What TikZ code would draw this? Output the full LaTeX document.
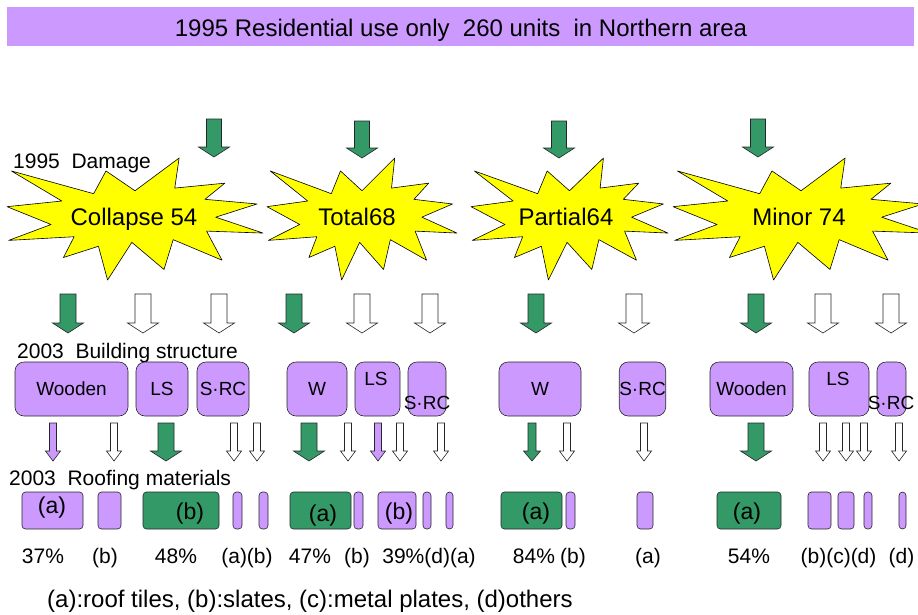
\documentclass[tikz,border=0pt]{standalone}
\usepackage{fontspec}
\setmainfont{Liberation Sans}
\definecolor{lilac}{RGB}{204,153,255}
\definecolor{leaf}{RGB}{51,153,102}
\definecolor{burst}{RGB}{255,255,0}

% block arrow pointing down: style, x, top, tip, shaft half width, head half width
\newcommand{\blockdown}[6]{%
  \draw[#1] (#2-#5,#3) -- (#2+#5,#3) -- (#2+#5,#4-10) -- (#2+#6,#4-10)
    -- (#2,#4) -- (#2-#6,#4-10) -- (#2-#5,#4-10) -- cycle;}

% explosion outline in a 216 x 216 frame: left, top, width, height
\newcommand{\explosion}[4]{%
  \begin{scope}[shift={(#1,#2)}, xscale=#3/216, yscale=#4/216]
    \draw[seal] (108,58) -- (145.22,0) -- (141.55,53.25) -- (183.8,44.57)
      -- (167.02,73.15) -- (210.97,81.37) -- (176.07,104.75) -- (216,132.9)
      -- (168.37,129.42) -- (181.45,180.95) -- (140.2,144.57) -- (132.47,197.37)
      -- (105.32,149.35) -- (84.85,216) -- (77.15,156.27) -- (47.62,176.17)
      -- (56.67,139.37) -- (1.35,145.87) -- (37.22,117.75) -- (0,86.15)
      -- (46.27,76.17) -- (3.7,22.95) -- (73.12,63.2) -- (83.52,22.95) -- cycle;
  \end{scope}}

\begin{document}
\begin{tikzpicture}[x=1pt, y=-1pt,
    seal/.style={draw=black, line width=0.6pt, fill=burst, line join=round},
    garrow/.style={draw=black!85, line width=0.6pt, fill=leaf},
    warrow/.style={draw=black!85, line width=0.6pt, fill=white},
    varrow/.style={draw=black!85, line width=0.6pt, fill=lilac},
    heading/.style={font=\fontsize{21}{25}\selectfont, anchor=base west, inner sep=0pt},
    damage/.style={font=\fontsize{24}{28}\selectfont, anchor=base, inner sep=0pt},
    bldg/.style={draw=black!85, line width=0.6pt, fill=lilac, rounded corners=9pt,
      inner sep=0pt, minimum height=54pt, font=\fontsize{19}{22}\selectfont},
    boxtext/.style={font=\fontsize{19}{22}\selectfont, anchor=base, inner sep=0pt},
    roofbox/.style={draw=black!85, line width=0.6pt, rounded corners=3.5pt,
      inner sep=0pt, minimum height=37pt},
    rooftext/.style={font=\fontsize{23}{27}\selectfont, anchor=base, inner sep=0pt},
    pct/.style={font=\fontsize{21}{25}\selectfont, anchor=base, inner sep=0pt}]
  \useasboundingbox (0,0) rectangle (918,614);

  % title bar
  \node[fill=lilac, minimum width=907pt, minimum height=39pt, inner sep=0pt] (banner) at (460.5,26.5) {};
  \node[font=\fontsize{24}{28}\selectfont, anchor=base, inner sep=0pt] (title) at (461,36)
    {1995 Residential use only\ \ 260 units\ \ in Northern area};

  % 1995 damage
  \explosion{7}{158}{256}{122}
  \explosion{267}{158}{190}{122}
  \explosion{471}{158}{197}{122}
  \explosion{673}{158}{256}{122}
  \node[damage] (collapse) at (134,225) {Collapse 54};
  \node[damage] (total) at (357,225) {Total68};
  \node[damage] (partial) at (566,225) {Partial64};
  \node[damage] (minor) at (799,225) {Minor 74};
  \node[heading] (dmg) at (13,168) {1995\ \ Damage};

  \blockdown{garrow}{214}{119}{157}{7.5}{15.5}
  \blockdown{garrow}{362}{121}{158}{7.5}{15.5}
  \blockdown{garrow}{559}{121}{158}{7.5}{15.5}
  \blockdown{garrow}{758}{119}{157}{7.5}{15.5}

  % damage -> structure
  \blockdown{garrow}{68}{294}{333}{8}{15.5}
  \blockdown{warrow}{143}{294}{333}{8}{15.5}
  \blockdown{warrow}{219}{294}{333}{8}{15.5}
  \blockdown{garrow}{294}{294}{333}{8}{15.5}
  \blockdown{warrow}{362}{294}{333}{8}{15.5}
  \blockdown{warrow}{430}{294}{333}{8}{15.5}
  \blockdown{garrow}{536}{294}{333}{8}{15.5}
  \blockdown{warrow}{634}{294}{333}{8}{15.5}
  \blockdown{garrow}{756}{294}{333}{8}{15.5}
  \blockdown{warrow}{823}{294}{333}{8}{15.5}
  \blockdown{warrow}{891}{294}{333}{8}{15.5}

  % 2003 building structure
  \node[heading] (struct) at (17,358) {2003\ \ Building structure};
  \node[bldg, minimum width=113pt] (wood1) at (71.5,389) {Wooden};
  \node[bldg, minimum width=52pt] (ls1) at (162,389) {LS};
  \node[bldg, minimum width=52pt] (src1) at (223,389) {S·RC};
  \node[bldg, minimum width=60pt] (w2) at (317,389) {W};
  \node[bldg, minimum width=45pt] (ls2) at (377.5,389) {};
  \node[bldg, minimum width=38pt] (src2) at (427,389) {};
  \node[bldg, minimum width=82pt] (w3) at (540,389) {W};
  \node[bldg, minimum width=45pt] (src3) at (642.5,389) {S·RC};
  \node[bldg, minimum width=83pt] (wood4) at (751.5,389) {Wooden};
  \node[bldg, minimum width=60pt] (ls4) at (839,389) {};
  \node[bldg, minimum width=29pt] (src4) at (891.5,389) {};
  \node[boxtext] (ls2t) at (376,385) {LS};
  \node[boxtext] (src2t) at (427,409) {S·RC};
  \node[boxtext] (ls4t) at (838,385) {LS};
  \node[boxtext] (src4t) at (891,409) {S·RC};

  % structure -> roofing
  \blockdown{varrow}{53}{423}{461}{3.5}{7.5}
  \blockdown{warrow}{114}{423}{461}{3.5}{7.5}
  \blockdown{garrow}{166}{423}{461}{8}{15.5}
  \blockdown{warrow}{234}{423}{461}{3.5}{7.5}
  \blockdown{warrow}{257}{423}{461}{3.5}{7.5}
  \blockdown{garrow}{309}{423}{461}{8}{15.5}
  \blockdown{warrow}{348}{423}{461}{3.5}{7.5}
  \blockdown{varrow}{378}{423}{461}{3.5}{7.5}
  \blockdown{warrow}{400}{423}{461}{3.5}{7.5}
  \blockdown{warrow}{441}{423}{461}{3.5}{7.5}
  \blockdown{garrow}{532}{423}{461}{4}{8.5}
  \blockdown{warrow}{567}{423}{461}{3.5}{7.5}
  \blockdown{warrow}{644}{423}{461}{3.5}{7.5}
  \blockdown{garrow}{756}{423}{461}{8}{15.5}
  \blockdown{warrow}{823}{423}{461}{3.5}{7.5}
  \blockdown{warrow}{846}{423}{461}{3.5}{7.5}
  \blockdown{warrow}{864}{423}{461}{3.5}{7.5}
  \blockdown{warrow}{899}{423}{461}{3.5}{7.5}

  % 2003 roofing materials
  \node[heading] (roofing) at (9,485) {2003\ \ Roofing materials};
  \node[roofbox, fill=lilac, minimum width=61pt] (r1a) at (52.5,510.5) {};
  \node[roofbox, fill=lilac, minimum width=23pt] (r1b) at (109.5,510.5) {};
  \node[roofbox, fill=leaf, minimum width=76pt] (r2b) at (181,510.5) {};
  \node[roofbox, fill=lilac, minimum width=9pt] (r2a) at (237.5,510.5) {};
  \node[roofbox, fill=lilac, minimum width=9pt] (r2bb) at (263.5,510.5) {};
  \node[roofbox, fill=leaf, minimum width=61pt] (r3a) at (320.5,510.5) {};
  \node[roofbox, fill=lilac, minimum width=9pt] (r3b) at (358.5,510.5) {};
  \node[roofbox, fill=lilac, minimum width=38pt] (r4b) at (397,510.5) {};
  \node[roofbox, fill=lilac, minimum width=8pt] (r4d) at (427,510.5) {};
  \node[roofbox, fill=lilac, minimum width=7pt] (r4a) at (449.5,510.5) {};
  \node[roofbox, fill=leaf, minimum width=61pt] (r5a) at (531.5,510.5) {};
  \node[roofbox, fill=lilac, minimum width=9pt] (r5b) at (570.5,510.5) {};
  \node[roofbox, fill=lilac, minimum width=16pt] (r6a) at (645,510.5) {};
  \node[roofbox, fill=leaf, minimum width=64pt] (r7a) at (749,510.5) {};
  \node[roofbox, fill=lilac, minimum width=23pt] (r7b) at (819.5,510.5) {};
  \node[roofbox, fill=lilac, minimum width=16pt] (r7c) at (846,510.5) {};
  \node[roofbox, fill=lilac, minimum width=8pt] (r7d) at (868,510.5) {};
  \node[roofbox, fill=lilac, minimum width=7pt] (r8d) at (902.5,510.5) {};
  \node[rooftext] (r1at) at (52,513) {(a)};
  \node[rooftext] (r2bt) at (190,519) {(b)};
  \node[rooftext] (r3at) at (323,521) {(a)};
  \node[rooftext] (r4bt) at (399,519) {(b)};
  \node[rooftext] (r5at) at (536,519) {(a)};
  \node[rooftext] (r7at) at (747,519) {(a)};

  % shares
  \node[pct] (p1) at (43,563) {37\%};
  \node[pct] (p2) at (105,563) {(b)};
  \node[pct] (p3) at (176,563) {48\%};
  \node[pct] (p4) at (247,563) {(a)(b)};
  \node[pct] (p5) at (310,563) {47\%};
  \node[pct] (p6) at (357,563) {(b)};
  \node[pct] (p7) at (429,563) {39\%(d)(a)};
  \node[pct] (p8) at (534,563) {84\%};
  \node[pct] (p9) at (573,563) {(b)};
  \node[pct] (p10) at (648,563) {(a)};
  \node[pct] (p11) at (749,563) {54\%};
  \node[pct] (p12) at (838.5,563) {(b)(c)(d)};
  \node[pct] (p13) at (901.5,563) {(d)};

  \node[font=\fontsize{24}{28}\selectfont, anchor=base west, inner sep=0pt] (legend) at (47,607.5)
    {(a):roof tiles, (b):slates, (c):metal plates, (d)others};
\end{tikzpicture}
\end{document}
